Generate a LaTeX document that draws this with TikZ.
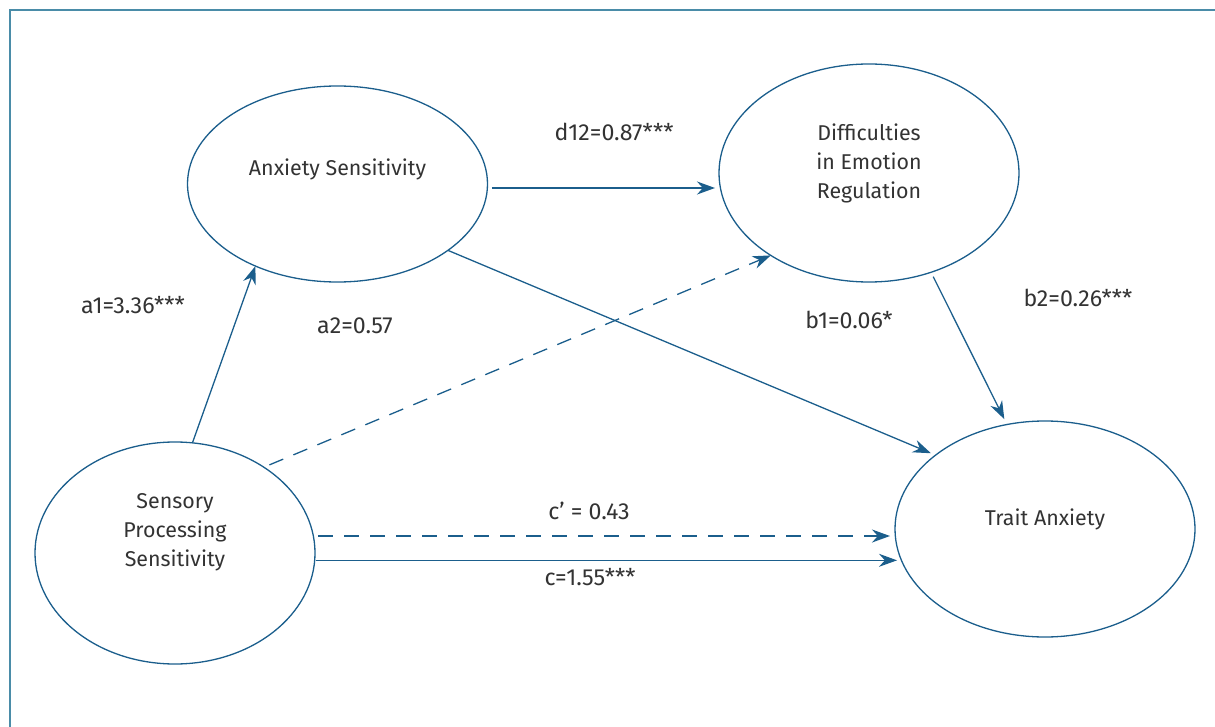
\documentclass[tikz,border=0pt]{standalone}
\usepackage{fontspec}
\setmainfont{Fira Sans}
\usetikzlibrary{arrows.meta,shapes.geometric,calc}
\usepackage{xcolor}
\definecolor{pathblue}{HTML}{1B5E8C}
\definecolor{framecol}{HTML}{4A8CA8}
\definecolor{txtgray}{HTML}{333333}

\begin{document}
\begin{tikzpicture}[
    x=0.5pt, y=-0.5pt,
    >={Stealth[length=9pt,width=6.5pt]},
    construct/.style={ellipse, draw=pathblue, line width=0.65pt, inner sep=0pt, outer sep=0pt},
    cname/.style={font=\fontsize{10.7}{14.5}\selectfont, text=txtgray, align=center},
    coef/.style={font=\fontsize{11.6}{13}\selectfont, text=txtgray},
    effect/.style={->, draw=pathblue, line width=0.65pt},
    nonsig/.style={effect, dash pattern=on 7.5pt off 5.5pt},
  ]
  \useasboundingbox (0,0) rectangle (1215,727);

  % frame
  \draw[framecol, line width=0.8pt] (10,727) -- (10,10) -- (1215,10);

  % ========= CONSTRUCTS =========
  \node[construct, minimum width=150pt, minimum height=98pt,
        label={[cname, yshift=7.5pt]center:Anxiety Sensitivity}] (as) at (337.5,184) {};
  \node[construct, minimum width=150pt, minimum height=109pt,
        label={[cname, yshift=5pt]center:Difficulties\\in Emotion\\Regulation}] (der) at (869,173) {};
  \node[construct, minimum width=140pt, minimum height=111pt,
        label={[cname, yshift=10.5pt]center:Sensory\\Processing\\Sensitivity}] (sps) at (175,553) {};
  \node[construct, minimum width=150pt, minimum height=108pt,
        label={[cname, yshift=5pt]center:Trait Anxiety}] (ta) at (1045,529) {};

  % ========= PATHS =========
  \draw[effect] (sps.81) -- (as.225);
  \draw[effect, shorten <=2.2pt, shorten >=2pt]
    ($(as.east)+(0,4)$) -- ($(as.east -| der.west)+(0,4)$);
  \draw[effect, shorten >=2.5pt] (as.-31.6) -- (ta.146);
  \draw[nonsig, shorten <=3pt] (sps.44) -- (der.220);
  \draw[effect, shorten <=2.5pt, shorten >=3pt] (der.-58.6) -- (ta.110.7);

  % direct effects
  \draw[nonsig, shorten <=2.5pt, shorten >=2.5pt] (sps.7) -- (sps.7 -| ta.west);
  \draw[effect, shorten <=0.5pt, shorten >=-1pt] (sps.-3.3) -- (sps.-3.3 -| ta.west);

  % coefficients
  \node[coef] (d12) at (614,132) {d12=0.87***};
  \node[coef] (a1) at (133,305) {a1=3.36***};
  \node[coef] (a2) at (355,326) {a2=0.57};
  \node[coef] (b1) at (849,320) {b1=0.06*};
  \node[coef] (b2) at (1078,298) {b2=0.26***};
  \node[coef] (cp) at (589,511) {c’ = 0.43};
  \node[coef] (c) at (590,577) {c=1.55***};
\end{tikzpicture}
\end{document}
